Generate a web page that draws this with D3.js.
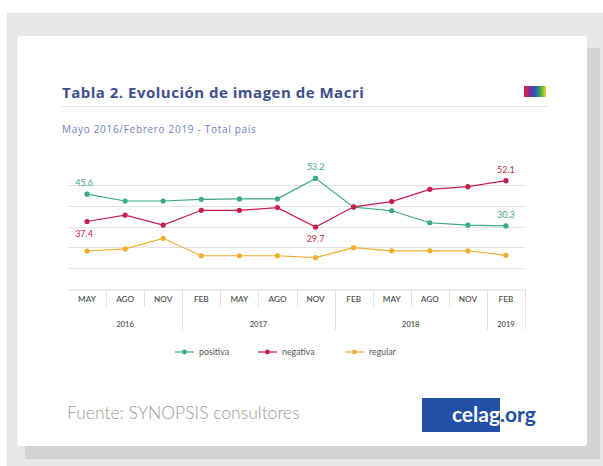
<!DOCTYPE html>
<html>
<head>
<meta charset="utf-8">
<script src="https://cdn.jsdelivr.net/npm/d3@7"></script>
<style>
  body { margin: 0; background: #fff; }
  text { font-family: Lato, "Open Sans", sans-serif; }
</style>
</head>
<body>
<svg id="chart" width="603" height="466"></svg>
<script>
// data
const months = ['MAY', 'AGO', 'NOV', 'FEB', 'MAY', 'AGO', 'NOV', 'FEB', 'MAY', 'AGO', 'NOV', 'FEB'];
const years = [
  { year: '2016', from: 0, to: 2 },
  { year: '2017', from: 3, to: 6 },
  { year: '2018', from: 7, to: 10 },
  { year: '2019', from: 11, to: 11 }
];
const positiva = [45.6, 42.3, 42.3, 43.1, 43.3, 43.3, 53.2, 39.3, 37.6, 31.8, 30.7, 30.3];
const negativa = [32.4, 35.5, 30.7, 37.8, 37.8, 39.1, 29.7, 39.5, 42.0, 47.9, 49.2, 52.1];
const regular  = [18.2, 19.2, 24.3, 15.9, 15.9, 15.9, 15.0, 19.8, 18.3, 18.3, 18.3, 16.1];
const gridTicks = [10, 20, 30, 40, 50];
// data labels as printed on the chart
const labels = [
  { series: 'positiva', i: 0, text: '45.6', pos: 'above' },
  { series: 'negativa', i: 0, text: '37.4', pos: 'below' },
  { series: 'positiva', i: 6, text: '53.2', pos: 'above' },
  { series: 'negativa', i: 6, text: '29.7', pos: 'below' },
  { series: 'negativa', i: 11, text: '52.1', pos: 'above' },
  { series: 'positiva', i: 11, text: '30.3', pos: 'above' }
];

const series = [
  { name: 'positiva', values: positiva, color: '#3aaa80' },
  { name: 'negativa', values: negativa, color: '#c81d4b' },
  { name: 'regular',  values: regular,  color: '#f0ad2e' }
];

const svg = d3.select('#chart');

// page background + card
svg.append('rect').attr('x', 7).attr('y', 13).attr('width', 596).attr('height', 453).attr('fill', '#e7e7e7');
svg.append('rect').attr('x', 25).attr('y', 48).attr('width', 575).attr('height', 411).attr('fill', '#d3d3d3');
svg.append('rect').attr('x', 17).attr('y', 36).attr('width', 570).attr('height', 410).attr('rx', 3).attr('fill', '#fff');

// header
svg.append('text')
  .attr('x', 62).attr('y', 98)
  .style('font-family', '"Open Sans", sans-serif')
  .attr('font-size', 15).attr('font-weight', 700)
  .attr('letter-spacing', 0.5)
  .attr('fill', '#3d4f8e')
  .text('Tabla 2. Evolución de imagen de Macri');

const grad = svg.append('defs').append('linearGradient').attr('id', 'rainbow');
['#e3262a', '#8a2a8e', '#2a54c4', '#3fae49', '#f2d322'].forEach((c, i, a) => {
  grad.append('stop').attr('offset', i / (a.length - 1)).attr('stop-color', c);
});
svg.append('rect').attr('x', 524).attr('y', 86).attr('width', 22).attr('height', 11).attr('fill', 'url(#rainbow)');

svg.append('line')
  .attr('x1', 62).attr('x2', 548).attr('y1', 106.5).attr('y2', 106.5)
  .attr('stroke', '#e6e6e6');

svg.append('text')
  .attr('x', 62).attr('y', 133)
  .style('font-family', '"Open Sans", sans-serif')
  .attr('font-size', 10).attr('letter-spacing', 0.7)
  .attr('fill', '#6f80c0')
  .text('Mayo 2016/Febrero 2019 - Total país');

// scales
const xBand = d3.scaleBand()
  .domain(d3.range(months.length))
  .range([68, 525])
  .padding(0);
const xPos = i => xBand(i) + xBand.bandwidth() / 2;

const yScale = d3.scaleLinear()
  .domain([0, 60])
  .range([288.75, 164.25]);

// grid
svg.append('g')
  .selectAll('line').data(gridTicks).enter().append('line')
    .attr('x1', 68).attr('x2', 525)
    .attr('y1', d => Math.round(yScale(d)) + 0.5)
    .attr('y2', d => Math.round(yScale(d)) + 0.5)
    .attr('stroke', '#e2e2e2');

// x axis: months
const xAxisG = svg.append('g')
  .attr('transform', `translate(0,${Math.round(yScale(0)) + 0.5})`)
  .call(d3.axisBottom(xBand).tickSize(0).tickPadding(7).tickFormat(i => months[i]));
xAxisG.select('.domain').attr('stroke', '#dcdcdc');
xAxisG.selectAll('text')
  .attr('font-size', 8.2).attr('font-weight', 600)
  .attr('fill', '#555');

// separators between categories, longer at year boundaries
const yearEdges = years.map(d => d.from).filter(d => d > 0).concat([months.length]);
const sepG = xAxisG.append('g');
sepG.selectAll('line').data(d3.range(1, months.length + 1)).enter().append('line')
  .attr('x1', i => Math.round(i < months.length ? xBand(i) : xBand.range()[1]) + 0.5)
  .attr('x2', i => Math.round(i < months.length ? xBand(i) : xBand.range()[1]) + 0.5)
  .attr('y1', 0)
  .attr('y2', i => yearEdges.includes(i) ? 40 : 17)
  .attr('stroke', '#e0e0e0');

// year labels
xAxisG.append('g').selectAll('text').data(years).enter().append('text')
  .attr('x', d => (xPos(d.from) + xPos(d.to)) / 2)
  .attr('y', 37)
  .attr('text-anchor', 'middle')
  .attr('font-size', 7.5).attr('font-weight', 600)
  .attr('fill', '#555')
  .text(d => d.year);

// lines + markers
const line = d3.line()
  .x((d, i) => xPos(i))
  .y(d => yScale(d));

const seriesG = svg.append('g').selectAll('g').data(series).enter().append('g');
seriesG.append('path')
  .attr('d', d => line(d.values))
  .attr('fill', 'none')
  .attr('stroke', d => d.color)
  .attr('stroke-width', 1.2);
seriesG.selectAll('circle')
  .data(d => d.values.map((v, i) => ({ v, i, color: d.color })))
  .enter().append('circle')
    .attr('cx', d => xPos(d.i))
    .attr('cy', d => yScale(d.v))
    .attr('r', 2.6)
    .attr('fill', d => d.color);

// data labels
const byName = Object.fromEntries(series.map(s => [s.name, s]));
svg.append('g').selectAll('text').data(labels).enter().append('text')
  .attr('x', d => d.i === 0 ? xPos(d.i) - 3 : xPos(d.i))
  .attr('y', d => yScale(byName[d.series].values[d.i]) + (d.pos === 'above' ? -8 : 15))
  .attr('text-anchor', 'middle')
  .attr('font-size', 9)
  .attr('fill', d => byName[d.series].color)
  .text(d => d.text);

// legend
const legendX = [175, 258, 345];
const legend = svg.append('g').selectAll('g').data(series).enter().append('g')
  .attr('transform', (d, i) => `translate(${legendX[i]},352)`);
legend.append('line')
  .attr('x1', 0).attr('x2', 19)
  .attr('stroke', d => d.color).attr('stroke-width', 1.2);
legend.append('circle')
  .attr('cx', 9.5).attr('r', 2.4)
  .attr('fill', d => d.color);
legend.append('text')
  .attr('x', 24).attr('y', 3)
  .attr('font-size', 8.8).attr('fill', '#555')
  .text(d => d.name);

// footer
svg.append('text')
  .attr('x', 67).attr('y', 419)
  .attr('font-size', 17.5).attr('font-weight', 300)
  .attr('fill', '#9a9a9a')
  .text('Fuente: SYNOPSIS consultores');

svg.append('rect')
  .attr('x', 422).attr('y', 398).attr('width', 78).attr('height', 34)
  .attr('fill', '#2150a6');
svg.append('text')
  .attr('x', 500).attr('y', 422)
  .attr('text-anchor', 'end')
  .attr('font-size', 21).attr('font-weight', 700)
  .attr('fill', '#fff')
  .text('celag');
svg.append('text')
  .attr('x', 500).attr('y', 422)
  .attr('font-size', 21).attr('font-weight', 700)
  .attr('fill', '#2150a6')
  .text('.org');
</script>
</body>
</html>
